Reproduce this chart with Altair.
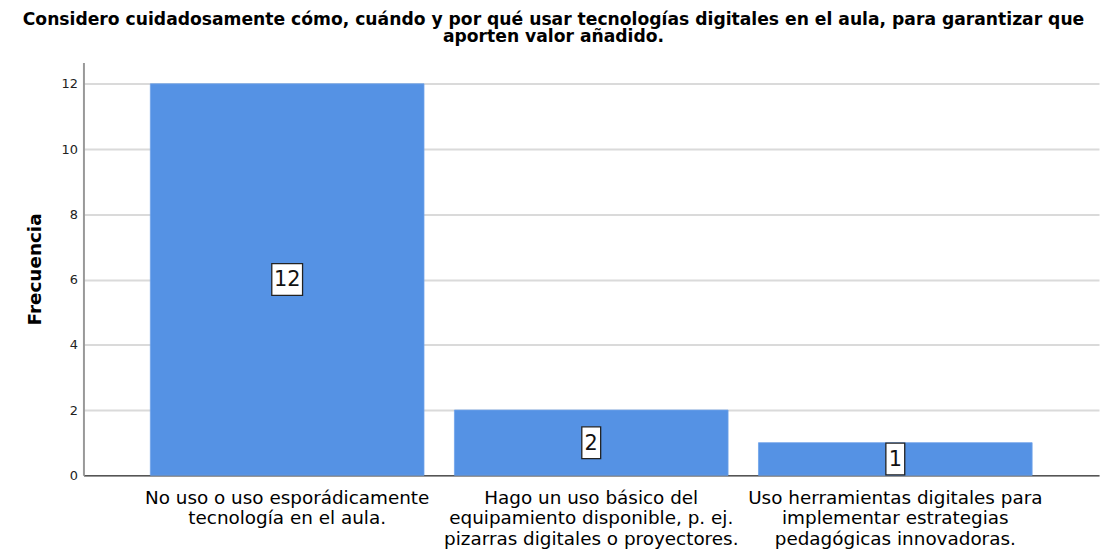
import altair as alt
import pandas as pd

title_lines = [
    "Considero cuidadosamente cómo, cuándo y por qué usar tecnologías digitales en el aula, para garantizar que",
    "aporten valor añadido.",
]
categories = [
    "No uso o uso esporádicamente\ntecnología en el aula.",
    "Hago un uso básico del\nequipamiento disponible, p. ej.\npizarras digitales o proyectores.",
    "Uso herramientas digitales para\nimplementar estrategias\npedagógicas innovadoras.",
]
values = [12, 2, 1]
y_ticks = [0, 2, 4, 6, 8, 10, 12]
y_title = "Frecuencia"

df = pd.DataFrame({"cat": categories, "val": values})
df["mid"] = df["val"] / 2
df["lbl"] = df["val"].astype(str)

FONT = "DejaVu Sans"
BAR_COLOR = "#5592e4"

x_enc = alt.X(
    "cat:N",
    sort=categories,
    title=None,
    scale=alt.Scale(paddingInner=0.1, paddingOuter=0.22),
    axis=alt.Axis(
        labelAngle=0,
        labelExpr="split(datum.label, '\\n')",
        labelFontSize=18.5,
        labelFont=FONT,
        labelColor="#000000",
        labelLineHeight=21,
        labelPadding=13,
        labelBaseline="top",
        ticks=False,
        domainColor="#555555",
        domainWidth=1.5,
        labelLimit=400,
    ),
)

y_scale = alt.Scale(domain=[0, 12.65], nice=False)

bars = alt.Chart(df).mark_bar(color=BAR_COLOR, stroke="#6fa3ea", strokeWidth=0.8).encode(
    x=x_enc,
    y=alt.Y(
        "val:Q",
        scale=y_scale,
        title=y_title,
        axis=alt.Axis(
            values=y_ticks,
            grid=True,
            gridColor="#dadada",
            gridWidth=2,
            ticks=False,
            labelFontSize=13,
            labelFont=FONT,
            labelColor="#222222",
            labelPadding=6,
            domainColor="#999999",
            domainWidth=2,
            titleFont=FONT,
            titleFontSize=18.5,
            titleFontWeight="bold",
            titleColor="#000000",
            titlePadding=17,
        ),
    ),
)

layers = [bars]
for v in values:
    w = 12 * len(str(v)) + 7
    box = (
        alt.Chart(df)
        .transform_filter(alt.datum.val == v)
        .mark_bar(fill="white", stroke="#222222", strokeWidth=1.3, width=w, yOffset=-16, y2Offset=16)
        .encode(x=alt.X("cat:N", sort=categories), y=alt.Y("mid:Q", scale=y_scale), y2="mid:Q")
    )
    layers.append(box)

text = alt.Chart(df).mark_text(font=FONT, fontSize=21, color="#111111", baseline="middle", dy=1).encode(
    x=alt.X("cat:N", sort=categories), y=alt.Y("mid:Q", scale=y_scale), text="lbl:N"
)
layers.append(text)

chart = (
    alt.layer(*layers)
    .properties(
        width=1023,
        height=415.7,
        title=alt.TitleParams(
            text=title_lines,
            font=FONT,
            fontSize=17.3,
            fontWeight="bold",
            color="#000000",
            anchor="middle",
            dx=-38,
            offset=17,
            lineHeight=18,
        ),
        autosize=alt.AutoSizeParams(type="none"),
        padding={"left": 76, "top": 53, "right": 3, "bottom": 80},
    )
    .configure_view(stroke=None)
    .configure_axis(gridCap="butt")
)

chart.save("out.html", embed_options={"renderer": "svg", "actions": False})
